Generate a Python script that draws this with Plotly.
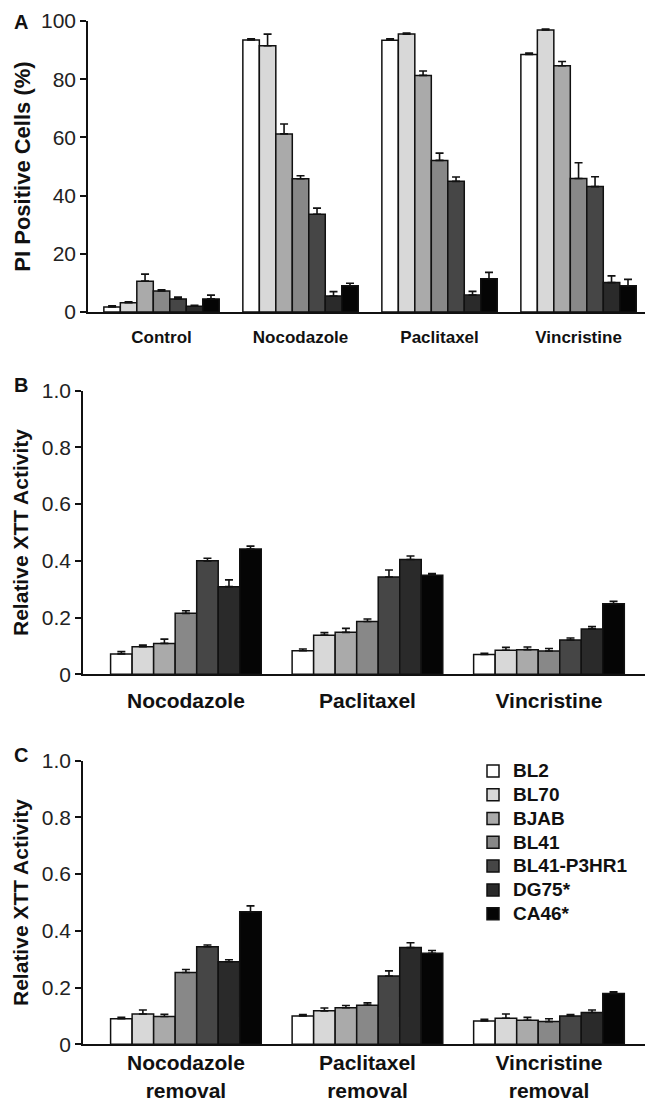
import plotly.graph_objects as go

# ---------------- data ----------------
cell_lines = ["BL2", "BL70", "BJAB", "BL41", "BL41-P3HR1", "DG75*", "CA46*"]
bar_colors = ["#ffffff", "#d8d8d8", "#aaaaaa", "#888888", "#464646", "#2a2a2a", "#050505"]

pi_categories = ["Control", "Nocodazole", "Paclitaxel", "Vincristine"]
xtt_categories = ["Nocodazole", "Paclitaxel", "Vincristine"]
removal_categories = ["Nocodazole<br>removal", "Paclitaxel<br>removal", "Vincristine<br>removal"]

# Panel A: PI positive cells (%) -- one row per cell line, one value per category
pi_values = [
    [1.7, 93.5, 93.4, 88.5],
    [3.2, 91.5, 95.5, 96.9],
    [10.6, 61.2, 81.3, 84.6],
    [7.2, 45.8, 52.1, 45.9],
    [4.5, 33.6, 44.9, 43.1],
    [2.0, 5.5, 5.8, 10.1],
    [4.5, 9.0, 11.4, 9.0],
]
pi_errors = [
    [0.4, 0.4, 0.5, 0.5],
    [0.3, 4.0, 0.4, 0.3],
    [2.4, 3.4, 1.5, 1.5],
    [0.4, 1.0, 2.5, 5.4],
    [0.6, 2.1, 1.5, 3.4],
    [0.3, 1.5, 1.3, 2.3],
    [1.3, 0.9, 2.2, 2.2],
]

# Panel B: relative XTT activity
xtt_values = [
    [0.072, 0.083, 0.070],
    [0.097, 0.138, 0.085],
    [0.109, 0.148, 0.087],
    [0.215, 0.186, 0.082],
    [0.400, 0.343, 0.121],
    [0.309, 0.405, 0.160],
    [0.442, 0.349, 0.249],
]
xtt_errors = [
    [0.008, 0.006, 0.004],
    [0.006, 0.009, 0.010],
    [0.015, 0.014, 0.009],
    [0.009, 0.009, 0.009],
    [0.009, 0.025, 0.007],
    [0.024, 0.012, 0.008],
    [0.010, 0.006, 0.008],
]

# Panel C: relative XTT activity after drug removal
removal_values = [
    [0.090, 0.100, 0.082],
    [0.107, 0.118, 0.092],
    [0.098, 0.129, 0.085],
    [0.253, 0.138, 0.080],
    [0.344, 0.241, 0.100],
    [0.291, 0.341, 0.112],
    [0.467, 0.321, 0.179],
]
removal_errors = [
    [0.005, 0.005, 0.006],
    [0.014, 0.010, 0.015],
    [0.008, 0.008, 0.010],
    [0.011, 0.008, 0.010],
    [0.006, 0.018, 0.005],
    [0.007, 0.017, 0.009],
    [0.021, 0.010, 0.006],
]

# ---------------- figure ----------------
W, H = 650, 1104
FONT = "Liberation Sans, Arial, Helvetica, sans-serif"

fig = go.Figure()

panels = [
    ("x", "y", pi_categories, pi_values, pi_errors, False),
    ("x2", "y2", xtt_categories, xtt_values, xtt_errors, False),
    ("x3", "y3", removal_categories, removal_values, removal_errors, True),
]

for xa, ya, cats, vals, errs, show in panels:
    xs = list(range(len(cats)))
    for name, color, v, e in zip(cell_lines, bar_colors, vals, errs):
        fig.add_trace(go.Bar(
            x=xs, y=v, xaxis=xa, yaxis=ya,
            # legend line height follows the (smaller) legend font; label drawn at 19px
            name=f'<span style="font-size:19px">{name}</span>',
            hovertext=name,
            marker=dict(color=color, line=dict(color="#111111", width=1.5)),
            error_y=dict(type="data", symmetric=False, array=e, arrayminus=[0] * len(e),
                         color="#111111", thickness=1.6, width=4),
            showlegend=show,
        ))


def ydom(top_px, bottom_px):
    return [1 - bottom_px / H, 1 - top_px / H]


tick_font = dict(family=FONT, size=21, color="#222222")
cat_font_a = dict(family=FONT, size=17, color="#111111", weight="bold")
cat_font_bc = dict(family=FONT, size=21, color="#111111", weight="bold")
title_font_a = dict(family=FONT, size=22, color="#111111", weight="bold")
title_font_bc = dict(family=FONT, size=21, color="#111111", weight="bold")

common_x = dict(showline=True, linecolor="#111111", linewidth=1.5, ticks="",
                showgrid=False, zeroline=False, fixedrange=True, automargin=False)
common_y = dict(showline=True, linecolor="#111111", linewidth=1.5, ticks="outside",
                ticklen=6, tickwidth=1.5, tickcolor="#111111", showgrid=False,
                zeroline=False, tickfont=tick_font, automargin=False)

fig.update_layout(
    template="none",
    width=W, height=H, autosize=False,
    margin=dict(l=0, r=0, t=0, b=0, pad=0),
    paper_bgcolor="white", plot_bgcolor="white",
    barmode="group", bargap=0.17, bargroupgap=0,
    font=dict(family=FONT, color="#111111"),
    xaxis=dict(common_x, domain=[88 / W, 645 / W], range=[-0.529, 3.478],
               tickvals=list(range(len(pi_categories))), ticktext=pi_categories,
               tickfont=cat_font_a, ticklabelstandoff=9, anchor="y"),
    yaxis=dict(common_y, domain=ydom(21, 312), range=[0, 100],
               tickvals=[0, 20, 40, 60, 80, 100], anchor="x",
               title=dict(text="PI Positive Cells (%)", font=title_font_a, standoff=4)),
    xaxis2=dict(common_x, domain=[83 / W, 645 / W], range=[-0.567, 2.529],
                tickvals=list(range(len(xtt_categories))), ticktext=xtt_categories,
                tickfont=cat_font_bc, ticklabelstandoff=7, anchor="y2"),
    yaxis2=dict(common_y, domain=ydom(390.7, 674.3), range=[0, 1.0],
                tickvals=[0, 0.2, 0.4, 0.6, 0.8, 1.0],
                ticktext=["0", "0.2", "0.4", "0.6", "0.8", "1.0"], anchor="x2",
                title=dict(text="Relative XTT Activity", font=title_font_bc, standoff=7)),
    xaxis3=dict(common_x, domain=[83 / W, 645 / W], range=[-0.567, 2.529],
                tickvals=list(range(len(removal_categories))), ticktext=removal_categories,
                tickfont=cat_font_bc, ticklabelstandoff=-1, anchor="y3"),
    yaxis3=dict(common_y, domain=ydom(760.7, 1044.3), range=[0, 1.0],
                tickvals=[0, 0.2, 0.4, 0.6, 0.8, 1.0],
                ticktext=["0", "0.2", "0.4", "0.6", "0.8", "1.0"], anchor="x3",
                title=dict(text="Relative XTT Activity", font=title_font_bc, standoff=7)),
    legend=dict(x=473 / W, y=1 - 754 / H, xanchor="left", yanchor="top",
                font=dict(family=FONT, size=16, color="#111111", weight="bold"),
                bgcolor="rgba(0,0,0,0)", borderwidth=0, traceorder="normal"),
)

for letter, ypx in [("A", 22), ("B", 385), ("C", 755)]:
    fig.add_annotation(text=letter, xref="paper", yref="paper", x=21 / W, y=1 - ypx / H,
                       xanchor="center", yanchor="middle", showarrow=False,
                       font=dict(family=FONT, size=20, color="#111111", weight="bold"))

fig.write_html(
    "out.html",
    config={"displayModeBar": False},
    post_script="document.body.style.margin='0';document.body.style.overflow='hidden';",
)
